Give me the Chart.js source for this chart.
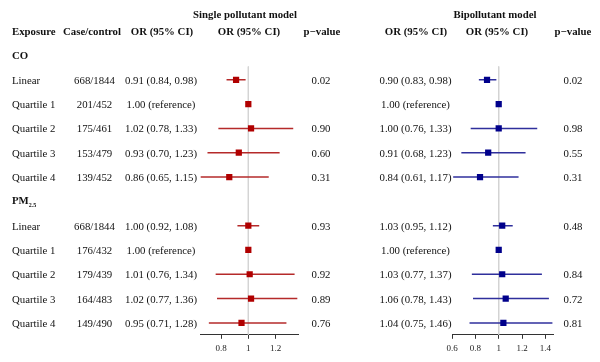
<!DOCTYPE html>
<html>
<head>
<meta charset="utf-8">
<script src="https://cdn.jsdelivr.net/npm/chart.js@4.4.1/dist/chart.umd.min.js"></script>
<style>
  body { margin: 0; background: #fff; }
  #wrap { position: relative; width: 600px; height: 362px; overflow: hidden;
          font-family: "Liberation Serif", "Times New Roman", serif; font-size: 10.8px; color: #111; }
  canvas { position: absolute; left: 0; top: 0; }
  .t { position: absolute; white-space: nowrap; line-height: 1; }
  .c { transform: translate(-50%, -50%); }
  .l { transform: translate(0, -50%); }
  .b { font-weight: bold; }
  sub { font-size: 6px; vertical-align: -3px; }
</style>
</head>
<body>
<div id="wrap">
  <canvas id="single" width="600" height="362"></canvas>
  <canvas id="bi" width="600" height="362"></canvas>
</div>
<script>
// data
const groups = ['CO', 'PM<sub>2.5</sub>'];
const exposures = ['Linear', 'Quartile 1', 'Quartile 2', 'Quartile 3', 'Quartile 4'];
const caseControl = ['668/1844', '201/452', '175/461', '153/479', '139/452',
                     '668/1844', '176/432', '179/439', '164/483', '149/490'];

const singleOR = [0.91, 1.00, 1.02, 0.93, 0.86, 1.00, 1.00, 1.01, 1.02, 0.95];
const singleLo = [0.84, null, 0.78, 0.70, 0.65, 0.92, null, 0.76, 0.77, 0.71];
const singleHi = [0.98, null, 1.33, 1.23, 1.15, 1.08, null, 1.34, 1.36, 1.28];
const singleP  = ['0.02', '', '0.90', '0.60', '0.31', '0.93', '', '0.92', '0.89', '0.76'];

const biOR = [0.90, 1.00, 1.00, 0.91, 0.84, 1.03, 1.00, 1.03, 1.06, 1.04];
const biLo = [0.83, null, 0.76, 0.68, 0.61, 0.95, null, 0.77, 0.78, 0.75];
const biHi = [0.98, null, 1.33, 1.23, 1.17, 1.12, null, 1.37, 1.43, 1.46];
const biP  = ['0.02', '', '0.98', '0.55', '0.31', '0.48', '', '0.84', '0.72', '0.81'];

const singleTicks = [0.8, 1, 1.2];
const singleTickLabels = ['0.8', '1', '1.2'];
const biTicks = [0.6, 0.8, 1, 1.2, 1.4];
const biTickLabels = ['0.6', '0.8', '1', '1.2', '1.4'];

// row layout: group header rows 0 and 6, data rows after them
const Y_MIN = -2.1, Y_MAX = 11.49;
function rowOf(i) {
    return Math.floor(i / 5) * 6 + 1 + (i % 5);
}

function makeForest(id, or, lo, hi, ticks, tickLabels, xMin, xMax, padLeft, padRight, pointColor, lineColor) {
    const ciSets = [];
    or.forEach((v, i) => {
        if (lo[i] == null) return;
        ciSets.push({
            data: [{ x: lo[i], y: rowOf(i) }, { x: hi[i], y: rowOf(i) }],
            showLine: true,
            borderColor: lineColor,
            borderWidth: 1.5,
            pointRadius: 0,
            order: 1
        });
    });

    return new Chart(document.getElementById(id), {
        type: 'scatter',
        data: {
            datasets: [
                {
                    data: or.map((v, i) => ({ x: v, y: rowOf(i) })),
                    pointStyle: 'rect',
                    pointRadius: 4.4,
                    backgroundColor: pointColor,
                    borderWidth: 0,
                    order: 0
                },
                ...ciSets,
                {
                    data: [{ x: 1, y: 0.45 }, { x: 1, y: Y_MAX }],
                    showLine: true,
                    borderColor: '#d4d4d4',
                    borderWidth: 1,
                    pointRadius: 0,
                    order: 2
                }
            ]
        },
        options: {
            responsive: false,
            animation: false,
            events: [],
            layout: { padding: { left: padLeft, right: padRight, top: 0, bottom: 4.4 } },
            plugins: { legend: { display: false }, tooltip: { enabled: false } },
            scales: {
                x: {
                    type: 'linear',
                    min: xMin,
                    max: xMax,
                    afterBuildTicks: scale => { scale.ticks = ticks.map(v => ({ value: v })); },
                    ticks: {
                        callback: (v, i) => tickLabels[i],
                        font: { family: '"Liberation Serif", serif', size: 9 },
                        color: '#222',
                        padding: 4,
                        autoSkip: false,
                        maxRotation: 0
                    },
                    grid: { display: true, drawOnChartArea: false, drawTicks: true, tickLength: 4, color: '#333' },
                    border: { display: true, color: '#333', width: 1 }
                },
                y: { type: 'linear', reverse: true, min: Y_MIN, max: Y_MAX, display: false }
            }
        }
    });
}

const singleChart = makeForest('single', singleOR, singleLo, singleHi, singleTicks, singleTickLabels,
    0.645, 1.365, 200, 302, '#b00000', '#b52a2a');
const biChart = makeForest('bi', biOR, biLo, biHi, biTicks, biTickLabels,
    0.6, 1.465, 452, 47, '#00008b', '#2f2f9c');

// table text, placed on the rows of the chart's y scale
const wrap = document.getElementById('wrap');
const yScale = singleChart.scales.y;
function addText(html, x, row, align, bold) {
    const d = document.createElement('div');
    d.className = 't ' + (align === 'l' ? 'l' : 'c') + (bold ? ' b' : '');
    d.innerHTML = html;
    d.style.left = x + 'px';
    d.style.top = yScale.getPixelForValue(row) + 'px';
    wrap.appendChild(d);
}
function orText(v, l, h) {
    return l == null ? v.toFixed(2) + ' (reference)' : `${v.toFixed(2)} (${l.toFixed(2)}, ${h.toFixed(2)})`;
}

addText('Single pollutant model', 245, -1.72, 'c', true);
addText('Bipollutant model', 495, -1.72, 'c', true);
addText('Exposure', 12, -1, 'l', true);
addText('Case/control', 92, -1, 'c', true);
addText('OR (95% CI)', 162, -1, 'c', true);
addText('OR (95% CI)', 249, -1, 'c', true);
addText('p\u2212value', 322, -1, 'c', true);
addText('OR (95% CI)', 416, -1, 'c', true);
addText('OR (95% CI)', 497, -1, 'c', true);
addText('p\u2212value', 573, -1, 'c', true);

groups.forEach((g, k) => addText(g, 12, k * 6, 'l', true));
caseControl.forEach((cc, i) => {
    const r = rowOf(i);
    addText(exposures[i % 5], 12, r, 'l', false);
    addText(cc, 94.5, r, 'c', false);
    addText(orText(singleOR[i], singleLo[i], singleHi[i]), 161, r, 'c', false);
    if (singleP[i]) addText(singleP[i], 321, r, 'c', false);
    addText(orText(biOR[i], biLo[i], biHi[i]), 415.5, r, 'c', false);
    if (biP[i]) addText(biP[i], 573, r, 'c', false);
});
</script>
</body>
</html>
